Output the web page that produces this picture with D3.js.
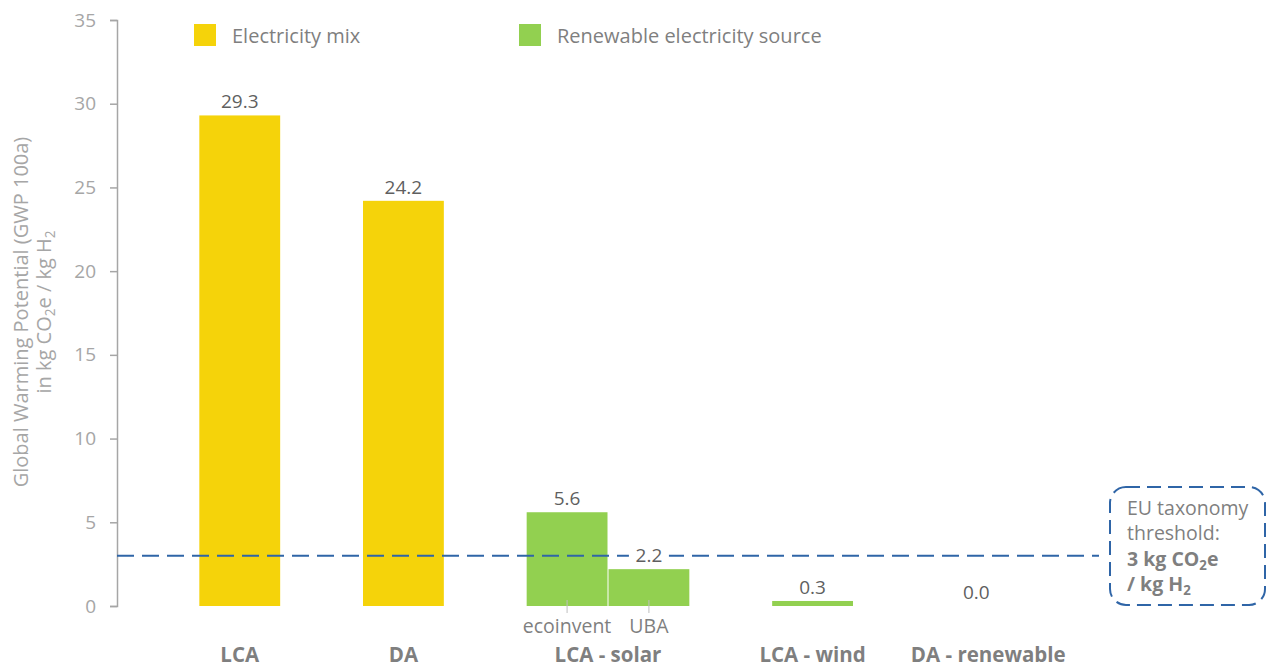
<!DOCTYPE html>
<html>
<head>
<meta charset="utf-8">
<script src="https://cdn.jsdelivr.net/npm/d3@7"></script>
<style>
  body { margin: 0; background: #fff; }
  svg { display: block; font-family: "Open Sans", "Noto Sans", sans-serif; }
</style>
</head>
<body>
<div id="chart"></div>
<script>
// data
var groups = ["LCA", "DA", "LCA - solar", "LCA - wind", "DA - renewable"];
var bars = ["LCA", "DA", "ecoinvent", "UBA", "wind", "renewable"];
var barGroup = ["LCA", "DA", "LCA - solar", "LCA - solar", "LCA - wind", "DA - renewable"];
var subLabels = ["", "", "ecoinvent", "UBA", "", ""];
var values = [29.3, 24.2, 5.6, 2.2, 0.3, 0.0];
var barSeries = ["Electricity mix", "Electricity mix", "Renewable electricity source",
                 "Renewable electricity source", "Renewable electricity source", "Renewable electricity source"];
var seriesNames = ["Electricity mix", "Renewable electricity source"];
var seriesColors = ["#F5D30A", "#92D050"];
var yTicks = [0, 5, 10, 15, 20, 25, 30, 35];
var threshold = 3;

var W = 1268, H = 667;
var margin = {top: 20, right: 169, bottom: 61, left: 117};
var width = W - margin.left - margin.right,
    height = H - margin.top - margin.bottom;

var svg = d3.select("#chart").append("svg")
    .attr("width", W)
    .attr("height", H);

var g = svg.append("g")
    .attr("transform", "translate(" + margin.left + "," + margin.top + ")");

// slot domain: a spacer before every group, then its bars, plus a trailing spacer
var slots = [];
groups.forEach(function(grp, gi) {
    slots.push("gap" + gi);
    bars.forEach(function(b, i) { if (barGroup[i] == grp) slots.push(b); });
});
slots.push("gapEnd");

var x = d3.scaleBand().domain(slots).range([0, width]).padding(0);
var y = d3.scaleLinear().domain([0, 35]).range([height, 0]);
var color = d3.scaleOrdinal().domain(seriesNames).range(seriesColors);

// little helper for subscripts
function sub(sel, txt) {
    sel.append("tspan").attr("baseline-shift", "-4").style("font-size", "0.68em").text(txt);
}

// y axis
var yAxis = g.append("g")
    .call(d3.axisLeft(y).tickValues(yTicks).tickSize(7).tickPadding(14));
yAxis.select(".domain").attr("stroke", "#A6A6A6").attr("stroke-width", 1.5);
yAxis.selectAll(".tick line").attr("stroke", "#A6A6A6").attr("stroke-width", 1.5);
yAxis.selectAll(".tick text")
    .attr("fill", "#A6A6A6")
    .style("font-size", "19px")
    .style("font-family", "'Open Sans', sans-serif");

// y title
var yt = svg.append("text")
    .attr("transform", "translate(28," + (margin.top + height / 2 - 1) + ") rotate(-90)")
    .attr("text-anchor", "middle")
    .attr("fill", "#A6A6A6")
    .style("font-size", "20px");
yt.append("tspan").attr("x", 0).attr("dy", 0).text("Global Warming Potential (GWP 100a)");
var l2 = yt.append("tspan").attr("x", 0).attr("dy", 23);
l2.append("tspan").text("in kg CO");
sub(l2, "2");
l2.append("tspan").text("e / kg H");
sub(l2, "2");

// bars
g.selectAll(".bar")
    .data(bars)
    .enter().append("rect")
    .attr("class", "bar")
    .attr("x", function(d) { return x(d) + 0.5; })
    .attr("width", x.bandwidth() - 1)
    .attr("y", function(d, i) { return y(values[i]); })
    .attr("height", function(d, i) { return height - y(values[i]); })
    .attr("fill", function(d, i) { return color(barSeries[i]); });

// threshold line
g.append("line")
    .attr("x1", 0).attr("x2", width)
    .attr("y1", y(threshold)).attr("y2", y(threshold))
    .attr("stroke", "#2F65A7")
    .attr("stroke-width", 2)
    .attr("stroke-dasharray", "17,8");

// value labels
bars.forEach(function(b, i) {
    var cx = x(b) + x.bandwidth() / 2;
    var ty = y(values[i]) - 7;
    if (b == "UBA") {
        g.append("rect")
            .attr("x", cx - 20).attr("y", ty - 17)
            .attr("width", 40).attr("height", 21)
            .attr("fill", "#fff");
    }
    g.append("text")
        .attr("x", cx).attr("y", ty)
        .attr("text-anchor", "middle")
        .attr("fill", "#5F5F5F")
        .style("font-size", "19px")
        .text(values[i].toFixed(1));
});

// sub-category ticks and labels
bars.forEach(function(b, i) {
    if (!subLabels[i]) return;
    var cx = x(b) + x.bandwidth() / 2;
    g.append("line")
        .attr("x1", cx).attr("x2", cx)
        .attr("y1", height - 6).attr("y2", height + 7)
        .attr("stroke", "#BFBFBF").attr("stroke-width", 1);
    g.append("text")
        .attr("x", cx).attr("y", height + 27)
        .attr("text-anchor", "middle")
        .attr("fill", "#7F7F7F")
        .style("font-size", "19.5px")
        .text(subLabels[i]);
});

// group labels
groups.forEach(function(grp) {
    var members = bars.filter(function(b, i) { return barGroup[i] == grp; });
    var x0 = x(members[0]), x1 = x(members[members.length - 1]) + x.bandwidth();
    g.append("text")
        .attr("x", (x0 + x1) / 2 + (grp == "DA - renewable" ? 12 : 0))
        .attr("y", height + 56)
        .attr("text-anchor", "middle")
        .attr("fill", "#7F7F7F")
        .style("font-size", "20.5px")
        .style("font-weight", "bold")
        .text(grp);
});

// legend
var legendX = [194, 519];
seriesNames.forEach(function(s, i) {
    svg.append("rect")
        .attr("x", legendX[i]).attr("y", 24)
        .attr("width", 22).attr("height", 22)
        .attr("fill", color(s));
    svg.append("text")
        .attr("x", legendX[i] + 38).attr("y", 43)
        .attr("fill", "#7F7F7F")
        .style("font-size", "20px")
        .text(s);
});

// threshold annotation box
svg.append("rect")
    .attr("x", 1110).attr("y", 487)
    .attr("width", 155).attr("height", 118)
    .attr("rx", 16).attr("ry", 16)
    .attr("fill", "#fff")
    .attr("stroke", "#2F65A7")
    .attr("stroke-width", 2)
    .attr("stroke-dasharray", "14,7");

var ann = svg.append("text")
    .attr("fill", "#7F7F7F")
    .style("font-size", "19.5px");
ann.append("tspan").attr("x", 1127).attr("y", 515).text("EU taxonomy");
ann.append("tspan").attr("x", 1127).attr("y", 540).text("threshold:");
var a3 = ann.append("tspan").attr("x", 1127).attr("y", 566).style("font-weight", "bold");
a3.append("tspan").text("3 kg CO");
sub(a3, "2");
a3.append("tspan").text("e");
var a4 = ann.append("tspan").attr("x", 1127).attr("y", 591).style("font-weight", "bold");
a4.append("tspan").text("/ kg H");
sub(a4, "2");
</script>
</body>
</html>
